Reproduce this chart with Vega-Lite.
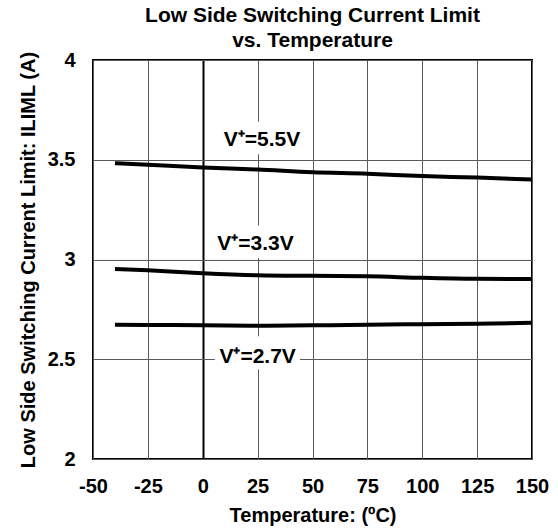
{
  "$schema": "https://vega.github.io/schema/vega-lite/v6.json",
  "width": 439,
  "height": 399,
  "autosize": {"type": "none"},
  "padding": {"left": 93, "top": 60, "right": 26, "bottom": 73},
  "background": "white",
  "config": {
    "font": "Liberation Sans",
    "view": {"stroke": "black", "strokeWidth": 2}
  },
  "title": {
    "text": ["Low Side Switching Current Limit", "vs. Temperature"],
    "fontSize": 21,
    "fontWeight": "bold",
    "lineHeight": 25,
    "anchor": "middle",
    "offset": -1,
    "color": "black"
  },
  "datasets": {
    "curves": [
      {"T": -40, "I": 3.483, "V": "5.5V"},
      {"T": -25, "I": 3.475, "V": "5.5V"},
      {"T": 0, "I": 3.461, "V": "5.5V"},
      {"T": 25, "I": 3.451, "V": "5.5V"},
      {"T": 50, "I": 3.437, "V": "5.5V"},
      {"T": 75, "I": 3.430, "V": "5.5V"},
      {"T": 100, "I": 3.418, "V": "5.5V"},
      {"T": 125, "I": 3.411, "V": "5.5V"},
      {"T": 150, "I": 3.401, "V": "5.5V"},
      {"T": -40, "I": 2.953, "V": "3.3V"},
      {"T": -25, "I": 2.946, "V": "3.3V"},
      {"T": 0, "I": 2.931, "V": "3.3V"},
      {"T": 25, "I": 2.921, "V": "3.3V"},
      {"T": 50, "I": 2.918, "V": "3.3V"},
      {"T": 75, "I": 2.916, "V": "3.3V"},
      {"T": 100, "I": 2.908, "V": "3.3V"},
      {"T": 125, "I": 2.903, "V": "3.3V"},
      {"T": 150, "I": 2.902, "V": "3.3V"},
      {"T": -40, "I": 2.673, "V": "2.7V"},
      {"T": -25, "I": 2.672, "V": "2.7V"},
      {"T": 0, "I": 2.670, "V": "2.7V"},
      {"T": 25, "I": 2.668, "V": "2.7V"},
      {"T": 50, "I": 2.670, "V": "2.7V"},
      {"T": 75, "I": 2.673, "V": "2.7V"},
      {"T": 100, "I": 2.676, "V": "2.7V"},
      {"T": 125, "I": 2.678, "V": "2.7V"},
      {"T": 150, "I": 2.683, "V": "2.7V"}
    ],
    "labels": [
      {"T": 27, "I": 3.568, "T1": 8, "T2": 46, "I1": 3.527, "I2": 3.691, "label": "V⁺=5.5V"},
      {"T": 24, "I": 3.047, "T1": 5.5, "T2": 43, "I1": 3.008, "I2": 3.171, "label": "V⁺=3.3V"},
      {"T": 25, "I": 2.482, "T1": 5.5, "T2": 44.3, "I1": 2.448, "I2": 2.615, "label": "V⁺=2.7V"}
    ]
  },
  "layer": [
    {
      "data": {"name": "labels"},
      "mark": {"type": "rect", "color": "white", "stroke": null},
      "encoding": {
        "x": {
          "field": "T1",
          "type": "quantitative",
          "title": "Temperature: (ºC)",
          "scale": {"domain": [-50, 150], "nice": false, "zero": false},
          "axis": {
            "title": "Temperature: (ºC)",
            "values": [-50, -25, 0, 25, 50, 75, 100, 125, 150],
            "labelExpr": "'' + datum.value",
            "domain": false,
            "ticks": false,
            "labelFlush": false,
            "labelOverlap": false,
            "labelFontSize": 20,
            "labelFontWeight": "bold",
            "labelColor": "black",
            "labelPadding": 17,
            "titleFontSize": 20,
            "titleFontWeight": "bold",
            "titleColor": "black",
            "titlePadding": 9,
            "grid": true,
            "gridColor": {"condition": {"test": "datum.value === 0", "value": "black"}, "value": "#5a5a5a"},
            "gridWidth": {"condition": {"test": "datum.value === 0", "value": 2}, "value": 1},
            "gridOpacity": 1
          }
        },
        "x2": {"field": "T2"},
        "y": {
          "field": "I1",
          "type": "quantitative",
          "title": "Low Side Switching Current Limit: ILIML (A)",
          "scale": {"domain": [2, 4], "nice": false, "zero": false},
          "axis": {
            "title": "Low Side Switching Current Limit: ILIML (A)",
            "values": [2, 2.5, 3, 3.5, 4],
            "labelExpr": "'' + datum.value",
            "domain": false,
            "ticks": false,
            "labelFlush": false,
            "labelOverlap": false,
            "labelFontSize": 20,
            "labelFontWeight": "bold",
            "labelColor": "black",
            "labelPadding": 18,
            "titleFontSize": 20,
            "titleFontWeight": "bold",
            "titleColor": "black",
            "titlePadding": 9,
            "grid": true,
            "gridColor": "#5a5a5a",
            "gridWidth": 1,
            "gridOpacity": 1
          }
        },
        "y2": {"field": "I2"}
      }
    },
    {
      "data": {"name": "curves"},
      "mark": {"type": "line", "color": "black", "strokeWidth": 4, "interpolate": "monotone"},
      "encoding": {
        "x": {"field": "T", "type": "quantitative", "title": "Temperature: (ºC)"},
        "y": {"field": "I", "type": "quantitative", "title": "Low Side Switching Current Limit: ILIML (A)"},
        "detail": {"field": "V"}
      }
    },
    {
      "data": {"name": "labels"},
      "mark": {"type": "text", "fontSize": 21, "fontWeight": "bold", "color": "black", "align": "center", "baseline": "alphabetic"},
      "encoding": {
        "x": {"field": "T", "type": "quantitative", "title": "Temperature: (ºC)"},
        "y": {"field": "I", "type": "quantitative", "title": "Low Side Switching Current Limit: ILIML (A)"},
        "text": {"field": "label"}
      }
    }
  ]
}
